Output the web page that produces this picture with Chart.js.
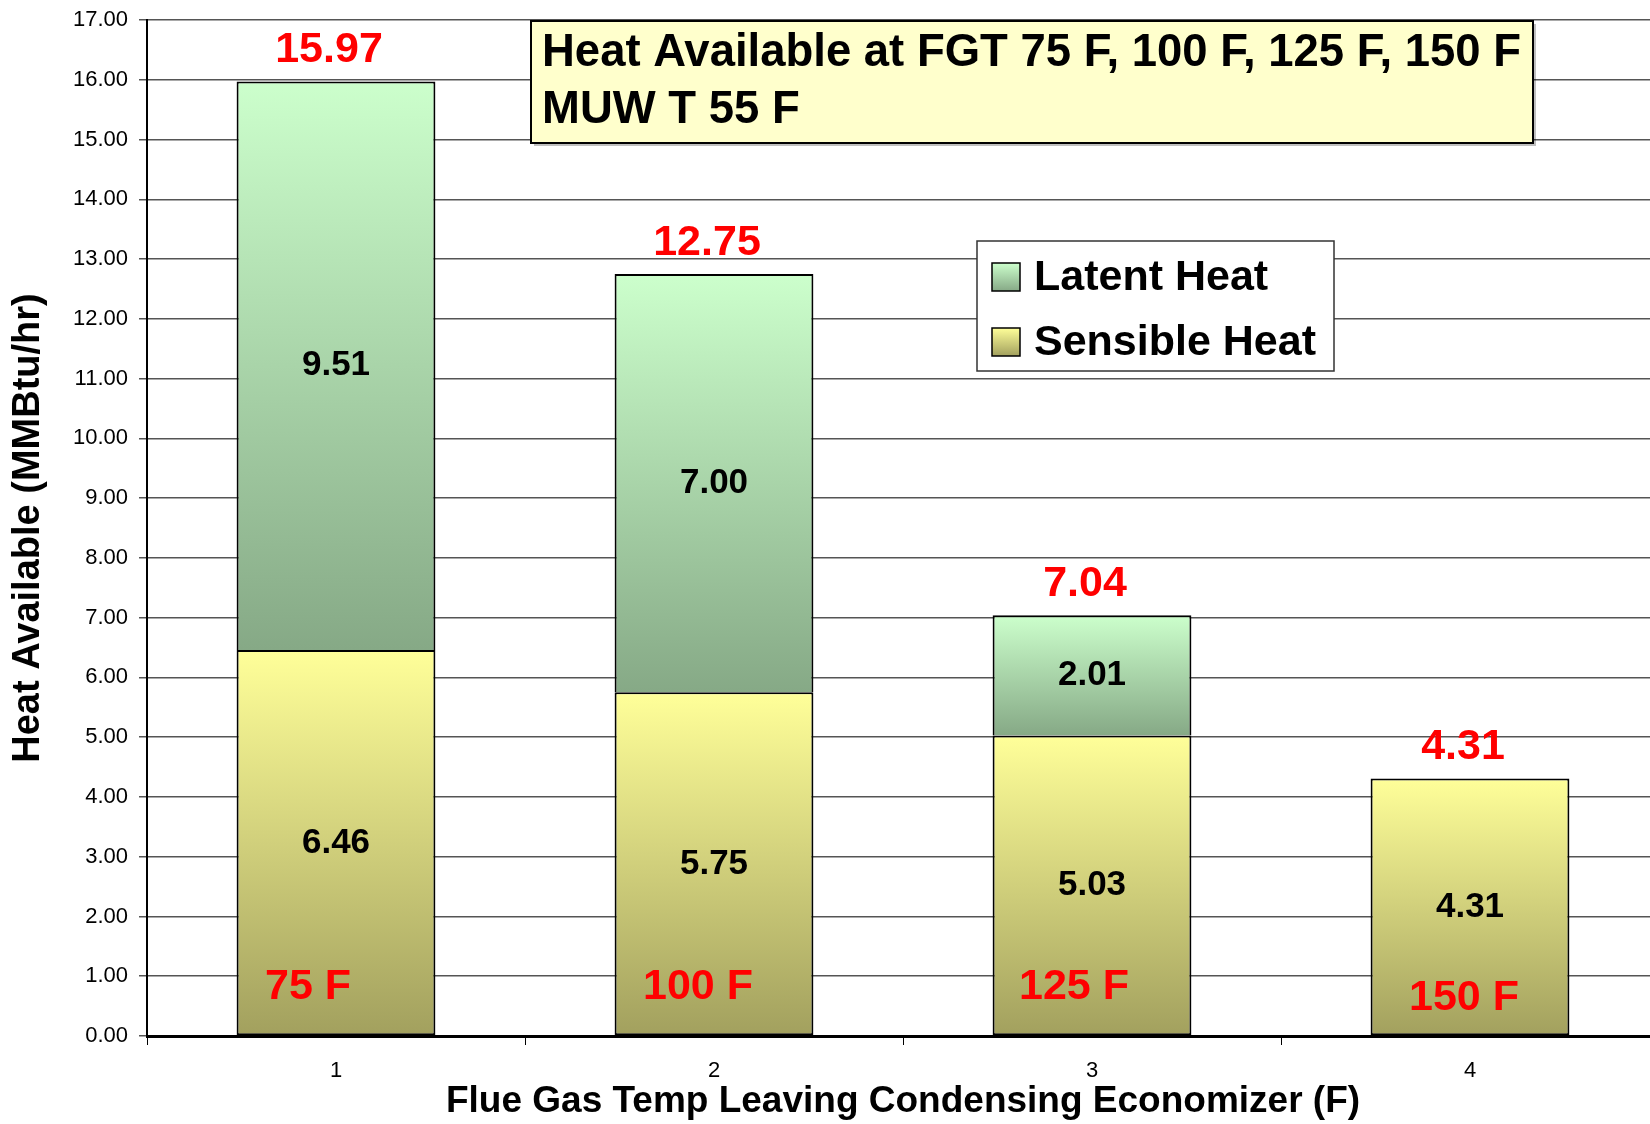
<!DOCTYPE html>
<html lang="en">

<head>
    <meta charset="UTF-8">
    <title>Heat Available</title>
    <script src="https://cdn.jsdelivr.net/npm/chart.js"></script>
    <style>
        body {
            margin: 0;
            padding: 0;
            overflow: hidden;
            background: #fff;
        }

        #wrap {
            width: 1659px;
            height: 1124px;
        }
    </style>
</head>

<body>
    <div id="wrap"><canvas id="heatChart" width="1659" height="1124"></canvas></div>

    <script>
        // Data
        const categories = ['1', '2', '3', '4'];
        const sensibleHeat = [6.46, 5.75, 5.03, 4.31];
        const latentHeat = [9.51, 7.00, 2.01, 0];
        const totalHeat = [15.97, 12.75, 7.04, 4.31];
        const tempLabels = ['75 F', '100 F', '125 F', '150 F'];
        const yTicks = [0, 1, 2, 3, 4, 5, 6, 7, 8, 9, 10, 11, 12, 13, 14, 15, 16, 17];
        const titleLines = ['Heat Available at FGT 75 F, 100 F, 125 F, 150 F', 'MUW T 55 F'];

        const FONT = '"Liberation Sans", Arial, sans-serif';
        const latentColors = ['#ccffcc', '#86a986'];
        const sensibleColors = ['#ffff99', '#a2a05e'];

        // vertical gradient for one stacked segment
        function segmentFill(context, base, colors) {
            const chart = context.chart;
            if (!chart.chartArea || context.type !== 'data') return colors[0];
            const i = context.dataIndex;
            const v = context.dataset.data[i];
            const b = base ? base[i] : 0;
            const y = chart.scales.y;
            const top = y.getPixelForValue(b + v);
            const bottom = y.getPixelForValue(b);
            if (!isFinite(top) || top === bottom) return colors[0];
            const g = chart.ctx.createLinearGradient(0, top, 0, bottom);
            g.addColorStop(0, colors[0]);
            g.addColorStop(1, colors[1]);
            return g;
        }

        // Title box, legend and value labels
        const decorations = {
            id: 'decorations',
            afterDatasetsDraw(chart) {
                const { ctx, scales } = chart;
                const y = scales.y;
                const sMeta = chart.getDatasetMeta(0);
                ctx.save();
                ctx.textAlign = 'center';
                ctx.textBaseline = 'middle';

                // inner segment values
                ctx.fillStyle = '#000';
                ctx.font = 'bold 35px ' + FONT;
                categories.forEach((c, i) => {
                    const x = sMeta.data[i].x;
                    ctx.fillText(sensibleHeat[i].toFixed(2), x, y.getPixelForValue(sensibleHeat[i] / 2));
                    if (latentHeat[i] > 0) {
                        ctx.fillText(latentHeat[i].toFixed(2), x,
                            y.getPixelForValue(sensibleHeat[i] + latentHeat[i] / 2));
                    }
                });

                // totals above bars
                ctx.fillStyle = '#ff0000';
                ctx.font = 'bold 43px ' + FONT;
                categories.forEach((c, i) => {
                    const x = sMeta.data[i].x - 7;
                    ctx.fillText(totalHeat[i].toFixed(2), x, y.getPixelForValue(totalHeat[i]) - 31);
                });

                // temperature tags near the base
                const nudgeX = [-28, -16, -18, -6];
                const tagY = [0.82, 0.82, 0.82, 0.64];
                categories.forEach((c, i) => {
                    ctx.fillText(tempLabels[i], sMeta.data[i].x + nudgeX[i], y.getPixelForValue(tagY[i]));
                });
                ctx.restore();
            },
            afterDraw(chart) {
                const { ctx, chartArea } = chart;
                ctx.save();

                // title box
                const bx = chartArea.left + 384, by = chartArea.top + 1, bw = 1002, bh = 122;
                ctx.fillStyle = 'rgba(0,0,0,0.25)';
                ctx.fillRect(bx + 3, by + 3, bw, bh);
                ctx.fillStyle = '#ffffcc';
                ctx.fillRect(bx, by, bw, bh);
                ctx.strokeStyle = '#000';
                ctx.lineWidth = 2;
                ctx.strokeRect(bx, by, bw, bh);
                ctx.fillStyle = '#000';
                ctx.font = 'bold 46px ' + FONT;
                ctx.textBaseline = 'middle';
                ctx.textAlign = 'left';
                const w1 = ctx.measureText(titleLines[0]).width;
                const sx = Math.min(1, 979 / w1);
                titleLines.forEach((t, k) => {
                    ctx.save();
                    ctx.translate(bx + 11, by + 32 + k * 57);
                    ctx.scale(sx, 1);
                    ctx.fillText(t, 0, 0);
                    ctx.restore();
                });

                // legend box
                const lx = chartArea.left + 830, ly = chartArea.top + 221, lw = 357, lh = 130;
                ctx.fillStyle = '#fff';
                ctx.fillRect(lx, ly, lw, lh);
                ctx.strokeStyle = '#333';
                ctx.lineWidth = 1.5;
                ctx.strokeRect(lx, ly, lw, lh);
                const items = [
                    { label: chart.data.datasets[1].label, colors: latentColors },
                    { label: chart.data.datasets[0].label, colors: sensibleColors }
                ];
                ctx.font = 'bold 43px ' + FONT;
                items.forEach((it, k) => {
                    const cy = ly + 36 + k * 65;
                    const g = ctx.createLinearGradient(0, cy - 14, 0, cy + 14);
                    g.addColorStop(0, it.colors[0]);
                    g.addColorStop(1, it.colors[1]);
                    ctx.fillStyle = g;
                    ctx.fillRect(lx + 15, cy - 14, 28, 28);
                    ctx.strokeStyle = '#000';
                    ctx.lineWidth = 1.5;
                    ctx.strokeRect(lx + 15, cy - 14, 28, 28);
                    ctx.fillStyle = '#000';
                    ctx.fillText(it.label, lx + 57, cy + 1);
                });
                ctx.restore();
            }
        };

        const ctx = document.getElementById('heatChart').getContext('2d');
        const heatChart = new Chart(ctx, {
            type: 'bar',
            data: {
                labels: categories,
                datasets: [
                    {
                        label: 'Sensible Heat',
                        data: sensibleHeat,
                        backgroundColor: (c) => segmentFill(c, null, sensibleColors),
                        borderColor: '#000',
                        borderWidth: 2,
                        borderSkipped: false,
                    },
                    {
                        label: 'Latent Heat',
                        data: latentHeat,
                        backgroundColor: (c) => segmentFill(c, sensibleHeat, latentColors),
                        borderColor: '#000',
                        borderWidth: 2,
                        borderSkipped: 'bottom',
                    },
                ],
            },
            options: {
                responsive: false,
                animation: false,
                layout: {
                    padding: { left: 6, top: 20, right: 0, bottom: 0 },
                },
                datasets: {
                    bar: {
                        barPercentage: 0.526,
                        categoryPercentage: 1,
                    },
                },
                plugins: {
                    legend: { display: false },
                    tooltip: { enabled: false },
                },
                scales: {
                    x: {
                        stacked: true,
                        afterFit(scale) { scale.height = 88; },
                        grid: {
                            offset: true,
                            drawOnChartArea: false,
                            drawTicks: true,
                            tickLength: 9,
                            color: '#000',
                            lineWidth: 1,
                        },
                        border: { color: '#000', width: 3 },
                        ticks: {
                            color: '#000',
                            padding: 13,
                            maxRotation: 0,
                            font: { family: FONT, size: 22 },
                        },
                        title: {
                            display: true,
                            text: 'Flue Gas Temp Leaving Condensing Economizer (F)',
                            color: '#000',
                            padding: 0,
                            font: { family: FONT, size: 37, weight: 'bold' },
                        },
                    },
                    y: {
                        stacked: true,
                        min: 0,
                        max: 17,
                        afterFit(scale) {
                            scale.width = 141;
                            scale.paddingTop = 5;
                        },
                        afterBuildTicks(scale) {
                            scale.ticks = yTicks.map(v => ({ value: v }));
                        },
                        grid: {
                            color: '#555',
                            lineWidth: 1.5,
                            tickLength: 8,
                        },
                        border: { color: '#000', width: 2 },
                        ticks: {
                            color: '#000',
                            padding: 11,
                            font: { family: FONT, size: 22 },
                            callback: (v) => Number(v).toFixed(2),
                        },
                        title: {
                            display: true,
                            text: 'Heat Available (MMBtu/hr)',
                            color: '#000',
                            padding: 0,
                            font: { family: FONT, size: 38, weight: 'bold' },
                        },
                    },
                },
            },
            plugins: [decorations],
        });
    </script>
</body>

</html>
